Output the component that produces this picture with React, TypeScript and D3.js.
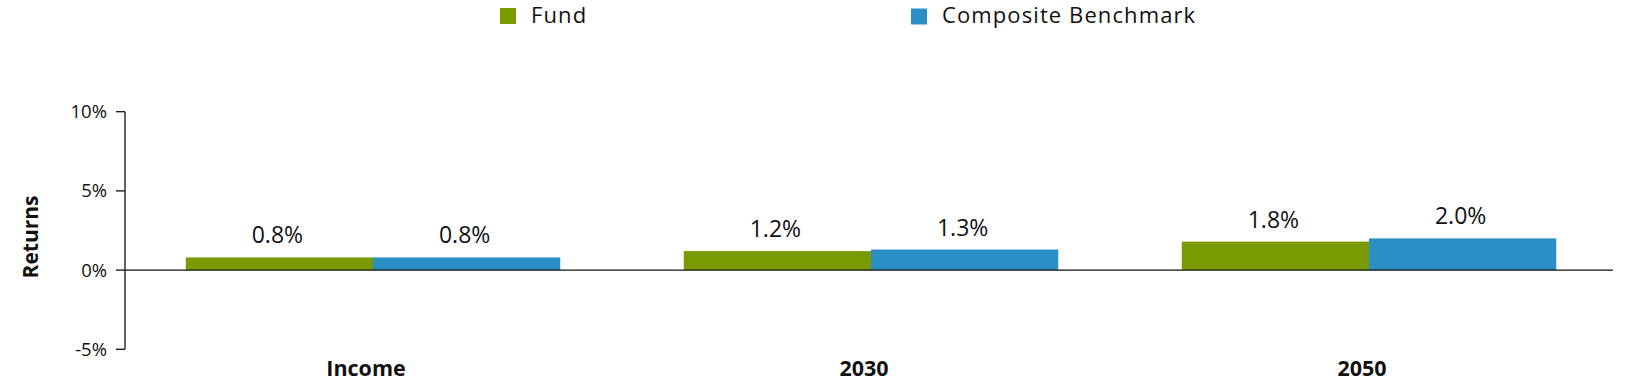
import React from "react";
import * as d3 from "d3";

const categories = ["Income", "2030", "2050"];
const seriesNames = ["Fund", "Composite Benchmark"];
const fundValues = [0.8, 1.2, 1.8];
const benchmarkValues = [0.8, 1.3, 2.0];
const yTicks = [-5, 0, 5, 10];
const colors = ["#7a9a01", "#2a8fc4"];

const W = 1628;
const H = 392;
const FONT = "'Open Sans', sans-serif";

export default function App() {
  const x = d3
    .scaleBand<string>()
    .domain(categories)
    .range([124, 1618])
    .paddingInner(0.248)
    .paddingOuter(0.124);
  const xs = d3.scaleBand<string>().domain(seriesNames).range([0, x.bandwidth()]);
  const y = d3.scaleLinear().domain([-5, 10]).range([349.3, 111.7]);
  const axisX = 125;
  const series = [fundValues, benchmarkValues];

  return (
    <svg
      width={W}
      height={H}
      style={{ position: "absolute", left: 0, top: 0, background: "#fff" }}
      fontFamily={FONT}
    >
      {/* legend */}
      <g>
        <rect x={500} y={8} width={16} height={16} fill={colors[0]} />
        <text x={531} y={23} fontSize={22} letterSpacing={1.1} fill="#111">
          {seriesNames[0]}
        </text>
        <rect x={911} y={8.5} width={16} height={16} fill={colors[1]} />
        <text x={942} y={23} fontSize={22} letterSpacing={1.1} fill="#111">
          {seriesNames[1]}
        </text>
      </g>

      {/* y axis */}
      <line x1={axisX} x2={axisX} y1={y(10)} y2={y(-5)} stroke="#111" strokeWidth={1.3} />
      {yTicks.map((t) => (
        <g key={t}>
          <line x1={axisX - 9} x2={axisX} y1={y(t)} y2={y(t)} stroke="#111" strokeWidth={1.3} />
          <text
            x={107}
            y={y(t)}
            dy="0.35em"
            textAnchor="end"
            fontSize={18.5}
            fill="#111"
          >
            {t + "%"}
          </text>
        </g>
      ))}
      <text
        transform={`translate(37.5,237) rotate(-90)`}
        textAnchor="middle"
        fontSize={21}
        fontWeight="bold"
        fill="#111"
      >
        Returns
      </text>

      {/* bars */}
      {categories.map((c, i) => (
        <g key={c}>
          {series.map((vals, s) => {
            const v = vals[i];
            const bx = (x(c) as number) + (xs(seriesNames[s]) as number);
            return (
              <g key={s}>
                <rect
                  x={bx}
                  y={y(Math.max(0, v))}
                  width={xs.bandwidth()}
                  height={Math.abs(y(v) - y(0))}
                  fill={colors[s]}
                />
                <text
                  x={bx + xs.bandwidth() / 2 - 2}
                  y={y(v) - 14}
                  textAnchor="middle"
                  fontSize={23}
                  fill="#111"
                >
                  {v.toFixed(1) + "%"}
                </text>
              </g>
            );
          })}
          <text
            x={(x(c) as number) + x.bandwidth() / 2 - 7}
            y={376}
            textAnchor="middle"
            fontSize={21.5}
            fontWeight="bold"
            fill="#111"
          >
            {c}
          </text>
        </g>
      ))}

      {/* zero line */}
      <line x1={axisX} x2={1613} y1={y(0)} y2={y(0)} stroke="#111" strokeWidth={1.3} />
    </svg>
  );
}
